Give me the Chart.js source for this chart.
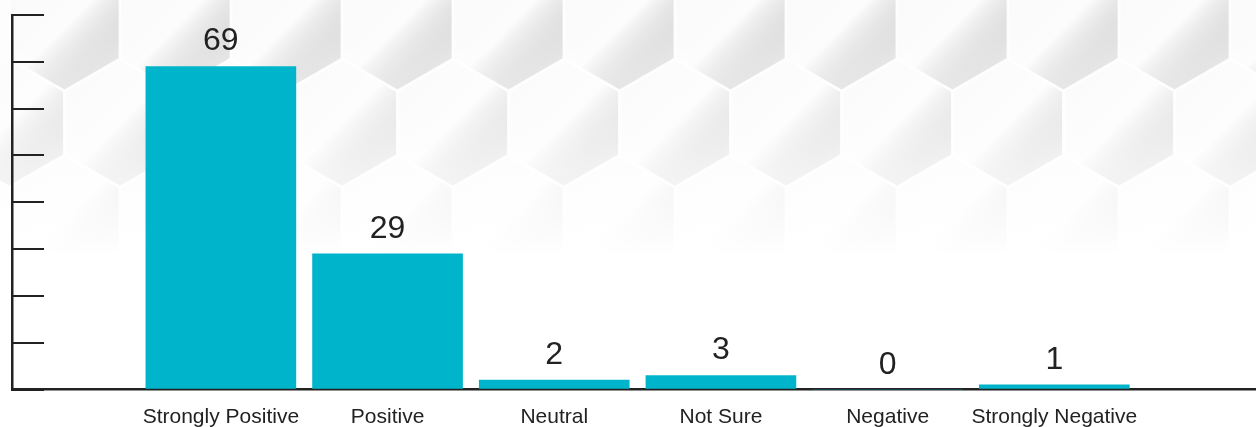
<!DOCTYPE html>
<html>
<head>
<meta charset="utf-8">
<script src="https://cdn.jsdelivr.net/npm/chart.js@4.4.0/dist/chart.umd.js"></script>
<style>
  html, body { margin: 0; padding: 0; background: #fff; }
  #wrap { width: 1256px; height: 427px; position: relative; }
</style>
</head>
<body>
<div id="wrap"><canvas id="surveyChart"></canvas></div>
<script>
const categories = ["Strongly Positive", "Positive", "Neutral", "Not Sure", "Negative", "Strongly Negative"];
const responses = [69, 29, 2, 3, 0, 1];
const yTicks = [0, 10, 20, 30, 40, 50, 60, 70, 80];

const barColor = "#00b4cb";
const inkColor = "#222222";

// soft honeycomb backdrop, fading out toward the bottom
const hexBackground = {
    id: 'hexBackground',
    beforeDraw(chart) {
        const ctx = chart.ctx;
        const w = chart.width, h = chart.height;
        const colW = 111;
        const r = colW / Math.sqrt(3);
        const rowH = 1.5 * r;
        ctx.save();
        ctx.fillStyle = "#fdfdfd";
        ctx.fillRect(0, 0, w, h);
        for (let row = -1; row < 4; row++) {
            const cy = 27 + row * rowH;
            const shift = (row % 2 === 0) ? colW / 2 : 0;
            for (let cx = 120 - colW + shift; cx < w + colW; cx += colW) {
                ctx.beginPath();
                for (let k = 0; k < 6; k++) {
                    const a = Math.PI / 6 + k * Math.PI / 3;
                    const px = cx + (r - 1) * Math.cos(a);
                    const py = cy + (r - 1) * Math.sin(a);
                    if (k === 0) ctx.moveTo(px, py); else ctx.lineTo(px, py);
                }
                ctx.closePath();
                const g = ctx.createLinearGradient(cx - r, cy - r, cx + r, cy + r);
                g.addColorStop(0, "rgba(0,0,0,0.014)");
                g.addColorStop(0.5, "rgba(0,0,0,0.004)");
                g.addColorStop(1, "rgba(255,255,255,0.5)");
                ctx.fillStyle = g;
                ctx.fill();
                ctx.strokeStyle = "rgba(255,255,255,0.8)";
                ctx.lineWidth = 1.2;
                ctx.stroke();
            }
        }
        const fade = ctx.createLinearGradient(0, 0, 0, h);
        fade.addColorStop(0, "rgba(255,255,255,0)");
        fade.addColorStop(0.3, "rgba(255,255,255,0.4)");
        fade.addColorStop(0.6, "rgba(255,255,255,1)");
        fade.addColorStop(1, "rgba(255,255,255,1)");
        ctx.fillStyle = fade;
        ctx.fillRect(0, 0, w, h);
        ctx.restore();
    }
};

// value printed above each bar
const valueLabels = {
    id: 'valueLabels',
    afterDatasetsDraw(chart) {
        const ctx = chart.ctx;
        const meta = chart.getDatasetMeta(0);
        ctx.save();
        ctx.font = '32px "Liberation Sans", Arial, sans-serif';
        ctx.fillStyle = inkColor;
        ctx.textAlign = 'center';
        ctx.textBaseline = 'alphabetic';
        meta.data.forEach((bar, i) => {
            ctx.fillText(String(responses[i]), bar.x, bar.y - 16);
        });
        ctx.restore();
    }
};

const ctx = document.getElementById("surveyChart").getContext("2d");
new Chart(ctx, {
    type: 'bar',
    data: {
        datasets: [{
            data: responses.map((v, i) => ({x: i, y: v})),
            backgroundColor: barColor,
            barThickness: 150
        }]
    },
    options: {
        responsive: true,
        maintainAspectRatio: false,
        animation: false,
        layout: {padding: {top: 15, left: 0, right: 0, bottom: 0}},
        plugins: {
            legend: {display: false},
            tooltip: {enabled: false}
        },
        scales: {
            x: {
                type: 'linear',
                offset: false,
                min: -1.253,
                max: 6.21,
                grid: {display: false, drawTicks: false, offset: false},
                border: {display: true, color: inkColor, width: 2.5},
                afterBuildTicks(scale) {
                    scale.ticks = categories.map((_, i) => ({value: i}));
                },
                afterFit(scale) {
                    scale.height = 37.5;
                },
                ticks: {
                    autoSkip: false,
                    maxRotation: 0,
                    padding: 15,
                    color: inkColor,
                    font: {family: '"Liberation Sans", Arial, sans-serif', size: 21},
                    callback: (value) => categories[value] ?? ''
                }
            },
            y: {
                min: yTicks[0],
                max: yTicks[yTicks.length - 1],
                afterBuildTicks(scale) {
                    scale.ticks = yTicks.map(v => ({value: v}));
                },
                afterFit(scale) {
                    scale.width = 12;
                },
                grid: {
                    drawOnChartArea: false,
                    drawTicks: true,
                    tickLength: -32,
                    color: inkColor,
                    lineWidth: 2
                },
                border: {display: true, color: inkColor, width: 2.5},
                ticks: {display: false}
            }
        }
    },
    plugins: [hexBackground, valueLabels]
});
</script>
</body>
</html>
